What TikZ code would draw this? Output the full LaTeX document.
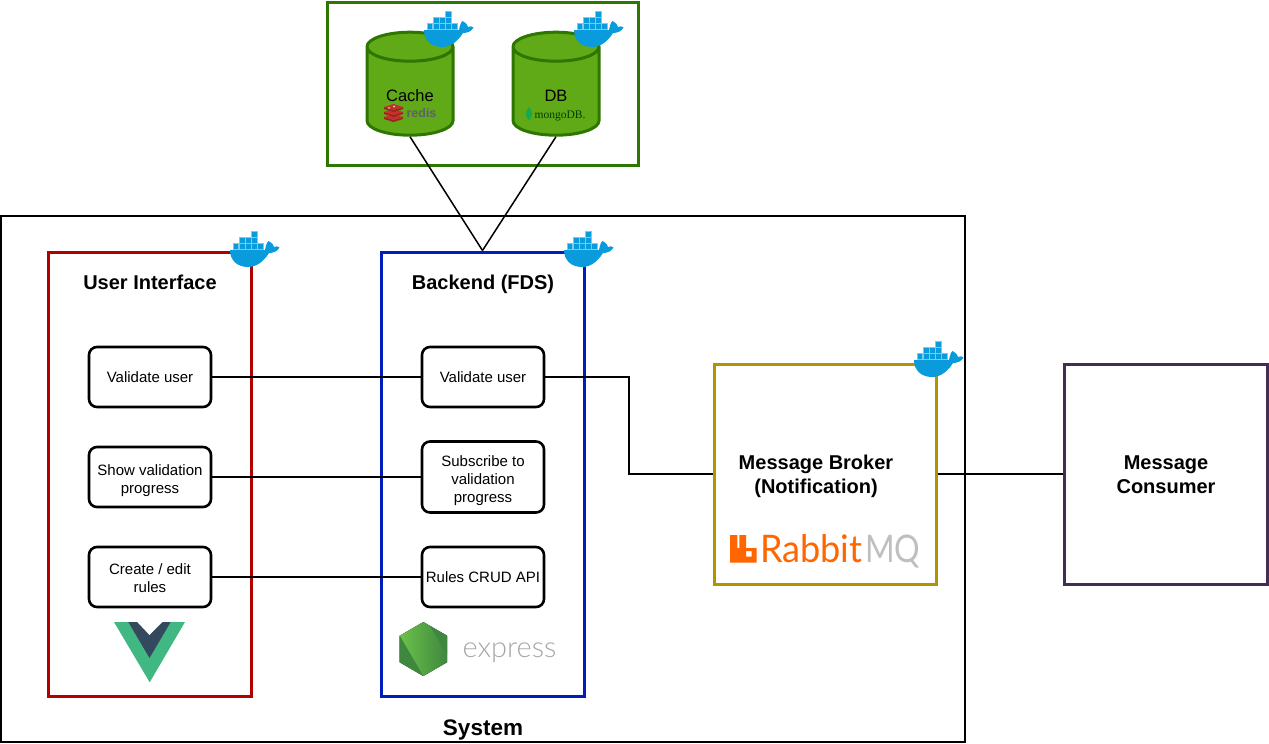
\documentclass[tikz,border=0pt]{standalone}
\usepackage{fontspec}
\setmainfont{Liberation Sans}
\newfontfamily\logofont{Lato Light}
\newfontfamily\rabbitfont{Lato}[FakeStretch=0.95]
\newfontfamily\mqfont{Lato}[FakeStretch=0.84]
\newfontfamily\mongofont{Liberation Serif}
\usetikzlibrary{positioning,shapes.geometric}
\definecolor{dockerblue}{HTML}{0A9BDC}
\definecolor{dockerlight}{HTML}{7CCBEE}
\definecolor{storagegreen}{HTML}{2D7600}
\definecolor{cylgreen}{HTML}{60A917}
\definecolor{uired}{HTML}{B20000}
\definecolor{beblue}{HTML}{001DBC}
\definecolor{brokergold}{HTML}{B09500}
\definecolor{consumerpurple}{HTML}{432D57}
\definecolor{rabbitorange}{HTML}{FF6600}
\definecolor{vuegreen}{HTML}{41B883}
\definecolor{vuedark}{HTML}{34495E}
\definecolor{nodelight}{HTML}{6CC24A}
\definecolor{nodedark}{HTML}{3F873F}
\definecolor{redisred}{HTML}{C6302B}
\definecolor{redisdark}{HTML}{9A2420}
\definecolor{redisgray}{HTML}{5F5F70}
\definecolor{mongoleaf}{HTML}{13AA52}
\tikzset{
  panel/.style = {draw, line width=3pt, minimum width=203pt, minimum height=444pt, inner sep=0pt},
  outer/.style = {draw, line width=1.5pt, inner sep=0pt},
  task/.style = {draw, line width=2.6pt, rounded corners=8pt, minimum width=122pt, minimum height=60pt, inner sep=0pt, align=center, font=\fontsize{15}{18}\selectfont},
  title/.style = {font=\bfseries\fontsize{20}{24}\selectfont, align=center, inner sep=0pt},
  store/.style = {cylinder, shape border rotate=90, aspect=4.35, draw=storagegreen, fill=cylgreen, line width=3pt, minimum width=86pt, minimum height=103pt},
  link/.style = {line width=1.5pt},
  whale/.pic = {
    \fill[dockerblue] (0,-1) -- (35,-1) .. controls (36,-6) and (37,-9) .. (38.5,-10) .. controls (42,-8) and (44,-6) .. (44,-4) .. controls (46,-5) and (48,-5) .. (49.5,-3.5) .. controls (47.5,0.5) and (43,2) .. (39,2) .. controls (34,10) and (27,16) .. (18,16) .. controls (7,16) and (0,9) .. (0,-1) -- cycle;
    \foreach \col in {0,1,2,3,4} \fill[dockerblue, draw=dockerlight, line width=0.4pt] (3+6.1*\col,-7.5) rectangle ++(5.6,5.6);
    \foreach \col in {1,2,3} \fill[dockerblue, draw=dockerlight, line width=0.4pt] (3+6.1*\col,-13.6) rectangle ++(5.6,5.6);
    \fill[dockerblue, draw=dockerlight, line width=0.4pt] (21.3,-19.7) rectangle ++(5.6,5.6);
  }
}
\begin{document}
\begin{tikzpicture}[x=1pt,y=-1pt]
  \useasboundingbox (0,0) rectangle (1269,744);
  % boxes
  \node[outer, minimum width=964pt, minimum height=526pt] (system) at (483,479) {};
  \node[outer, draw=storagegreen, line width=3pt, minimum width=311pt, minimum height=163pt] (storage) at (482.5,83.5) {};
  \node[panel, draw=uired] (ui) at (149.5,474) {};
  \node[panel, draw=beblue] (backend) at (482.5,474) {};
  \node[panel, draw=brokergold, minimum width=222pt, minimum height=220pt] (broker) at (825,474) {};
  \node[panel, draw=consumerpurple, minimum width=203pt, minimum height=220pt] (consumer) at (1165.5,474) {};
  \node[store] (cache) at (410,94.5) {};
  \node[store] (db) at (556,94.5) {};
  % tasks
  \node[task] (uivalidate) at (150,377) {Validate user};
  \node[task, below=37.4pt of uivalidate] (uishow) {\rule{0pt}{18pt}Show validation\\progress};
  \node[task, below=37.4pt of uishow] (uirules) {\rule{0pt}{13pt}Create / edit\\rules};
  \node[task] (bevalidate) at (483,377) {Validate user};
  \node[task, minimum height=71pt] (besub) at (483,477) {\rule{0pt}{18pt}Subscribe to\\validation\\progress};
  \node[task] (berules) at (483,577) {Rules CRUD API};
  \coordinate (elbow) at (629,425);
  % links
  \draw[link] (cache.south) -- (backend.north);
  \draw[link] (db.south) -- (backend.north);
  \draw[link] (uivalidate) -- (bevalidate);
  \draw[link] (uishow) -- (besub);
  \draw[link] (uirules) -- (berules);
  \draw[link] (bevalidate.east) -| (elbow) |- (broker.west);
  \draw[link] (broker) -- (consumer);
  % texts
  \node[title, anchor=base] (uititle) at (150,289.5) {User Interface};
  \node[title, anchor=base] (betitle) at (483,289.5) {Backend (FDS)};
  \node[title] (brokertitle) at (816,476) {Message Broker\\(Notification)};
  \node[title] (consumertitle) at (1166,475) {Message\\Consumer};
  \node[title, anchor=base, font=\bfseries\fontsize{22.5}{24}\selectfont] (systemtitle) at (483,735) {System};
  \node[inner sep=0pt, font=\fontsize{16.5}{18}\selectfont] (cachetitle) at (410,96) {Cache};
  \node[inner sep=0pt, font=\fontsize{16.5}{18}\selectfont] (dbtitle) at (556,96) {DB};
  % redis logo
  \foreach \level in {117,112,107} {
    \fill[redisdark] (384,\level) -- (393.5,\level+3) -- (403,\level) -- (403,\level+2) -- (393.5,\level+5) -- (384,\level+2) -- cycle;
    \fill[redisred] (384,\level) -- (393.5,\level-3) -- (403,\level) -- (393.5,\level+3) -- cycle;
  }
  \fill[white!80!redisred] (394,106.5) circle (1pt) (389,108) circle (0.8pt);
  \node[inner sep=0pt, text=redisgray, font=\bfseries\fontsize{12.5}{14}\selectfont] (redistext) at (421.5,113) {redis};
  % mongo logo
  \fill[mongoleaf] (529,107) .. controls (533,111) and (533,117) .. (529.3,120) -- (528.7,120) .. controls (525,117) and (525,111) .. (529,107) -- cycle;
  \node[inner sep=0pt, text=black!75!green, font=\mongofont\fontsize{11.5}{14}\selectfont] (mongotext) at (560,116) {mongoDB.};
  % vue logo
  \fill[vuegreen] (114,622) -- (185,622) -- (149.7,682.3) -- cycle;
  \fill[vuedark] (128.3,622) -- (170.7,622) -- (149.5,658) -- cycle;
  \fill[white] (137.3,622) -- (162.3,622) -- (149.5,635) -- cycle;
  % node logo
  \fill[left color=nodelight, right color=nodedark] (423.3,622) -- (447,635.7) -- (447,662.3) -- (423.3,676) -- (399.7,662.3) -- (399.7,635.7) -- cycle;
  \fill[nodedark] (399.7,635.7) -- (423.3,676) -- (399.7,662.3) -- cycle;
  \fill[nodedark] (430,626) -- (447,635.7) -- (447,655) -- cycle;
  \node[inner sep=0pt, text=gray!70, font=\logofont\fontsize{29}{30}\selectfont] (expresstext) at (509.5,653) {express};
  % rabbit logo
  \fill[rabbitorange, even odd rule] (730,535) -- (737.3,535) -- (737.3,548) -- (739.3,548) -- (739.3,535) -- (746,535) -- (746,548) -- (756.7,548) -- (756.7,562.7) -- (730,562.7) -- cycle (746,551) rectangle (751.7,556.7);
  \node[inner sep=0pt, anchor=base west, text=rabbitorange, font=\rabbitfont\fontsize{38}{38}\selectfont] (rabbittext) at (760,562.7) {Rabbit};
  \node[inner sep=0pt, anchor=base west, text=gray!50, font=\mqfont\fontsize{38}{38}\selectfont] (mqtext) at (865,562.7) {MQ};
  % docker logos
  \pic at (230,251) {whale};
  \pic at (564,251) {whale};
  \pic at (914,361) {whale};
  \pic at (424,31) {whale};
  \pic at (574,31) {whale};
\end{tikzpicture}
\end{document}
